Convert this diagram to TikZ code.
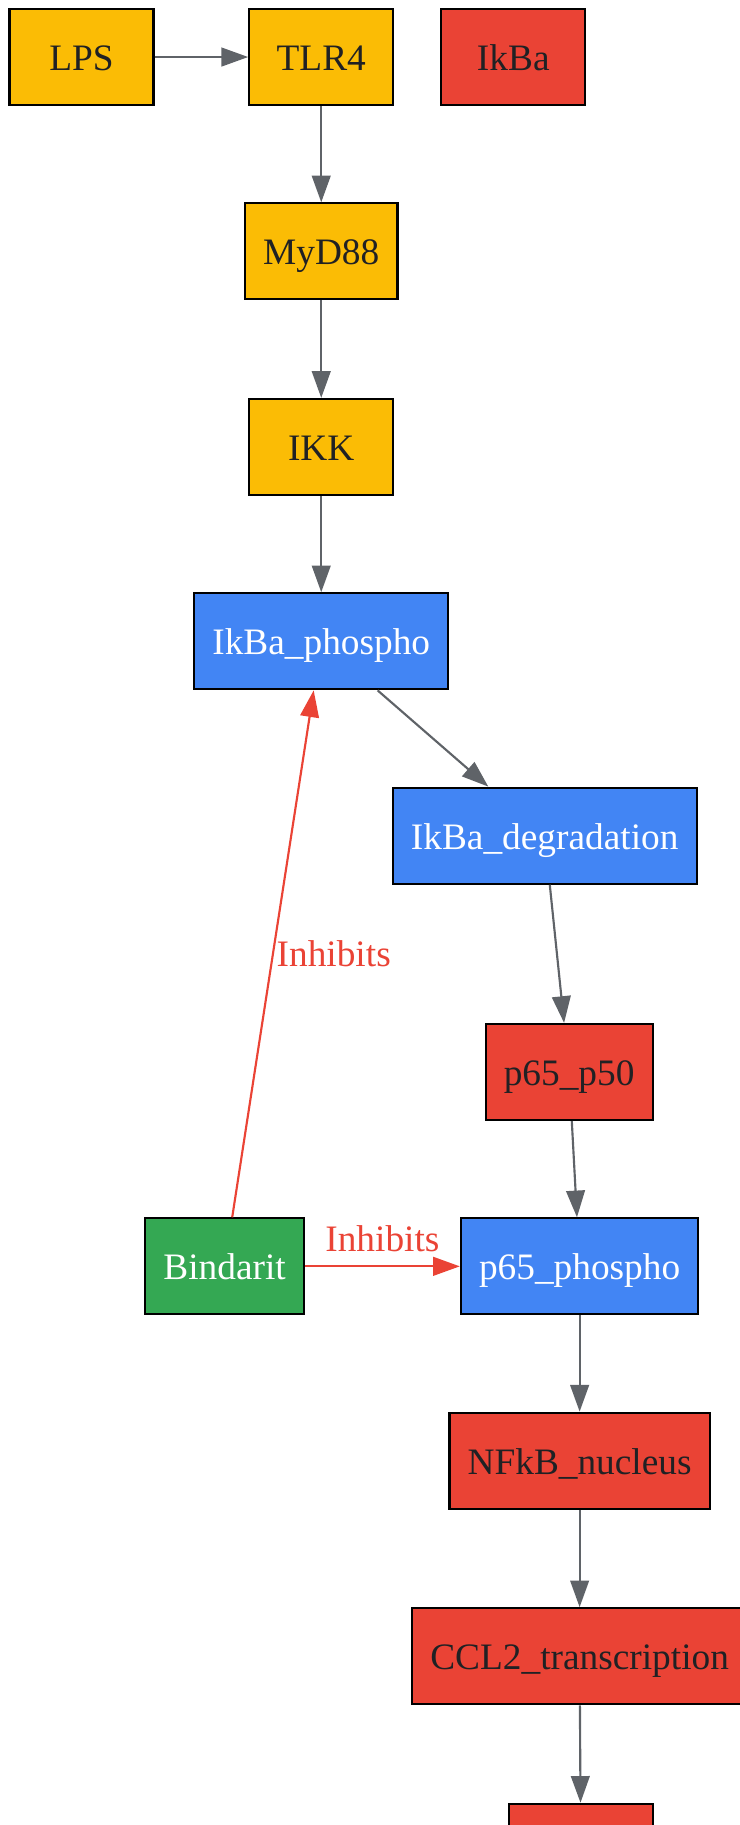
\documentclass[tikz,border=0pt]{standalone}
\usepackage{fontspec}
\setmainfont{Liberation Serif}
\usetikzlibrary{arrows.meta}

\definecolor{gyellow}{HTML}{FBBC05}
\definecolor{gred}{HTML}{EA4335}
\definecolor{gblue}{HTML}{4285F4}
\definecolor{ggreen}{HTML}{34A853}
\definecolor{ggray}{HTML}{5F6368}
\definecolor{gtext}{HTML}{202124}

\begin{document}
\begin{tikzpicture}[x=0.4364pt,y=-0.4364pt,
  box/.style={draw=black,line width=0.8pt,minimum width=54pt,minimum height=36pt,
    inner xsep=6.8pt,text height=13pt,text depth=3pt,
    font=\fontsize{14}{16}\selectfont,text=gtext},
  yellowbox/.style={box,fill=gyellow},
  redbox/.style={box,fill=gred},
  bluebox/.style={box,fill=gblue,text=white},
  greenbox/.style={box,fill=ggreen,text=white},
  link/.style={draw=ggray,line width=0.8pt,-{Triangle[length=10pt,width=7pt]}},
  inhib/.style={draw=gred,line width=0.8pt,-{Triangle[length=10pt,width=7pt]}},
  inhiblabel/.style={text=gred,font=\fontsize{14}{16}\selectfont,inner sep=1pt}]
  \useasboundingbox (0,0) rectangle (635,1568);

  \node[yellowbox] (LPS) at (70,49) {LPS};
  \node[yellowbox] (TLR4) at (276,49) {TLR4};
  \node[redbox] (IkBa) at (441,49) {IkBa};
  \node[yellowbox] (MyD88) at (276,216) {MyD88};
  \node[yellowbox] (IKK) at (276,384) {IKK};
  \node[bluebox] (IkBaP) at (276,551) {IkBa\_phospho};
  \node[bluebox] (IkBaD) at (468,718) {IkBa\_degradation};
  \node[redbox] (p65p50) at (489,921) {p65\_p50};
  \node[greenbox] (Bindarit) at (193,1088) {Bindarit};
  \node[bluebox] (p65P) at (498,1088) {p65\_phospho};
  \node[redbox] (NFkB) at (498,1255) {NFkB\_nucleus};
  \node[redbox] (CCL2) at (498,1423) {CCL2\_transcription};
  \node[redbox] (CCL2x) at (499,1591) {};

  \draw[link] (LPS) -- (TLR4);
  \draw[link] (TLR4) -- (MyD88);
  \draw[link] (MyD88) -- (IKK);
  \draw[link] (IKK) -- (IkBaP);
  \draw[link] (IkBaP) -- (IkBaD);
  \draw[link] (IkBaD) -- (p65p50);
  \draw[link] (p65p50) -- (p65P);
  \draw[link] (p65P) -- (NFkB);
  \draw[link] (NFkB) -- (CCL2);
  \draw[link] (CCL2) -- (CCL2x);

  \draw[inhib] (Bindarit) -- (IkBaP) node[inhiblabel,pos=0.5,anchor=west] {Inhibits};
  \draw[inhib] (Bindarit) -- (p65P) node[inhiblabel,midway,above=4pt] {Inhibits};
\end{tikzpicture}
\end{document}
